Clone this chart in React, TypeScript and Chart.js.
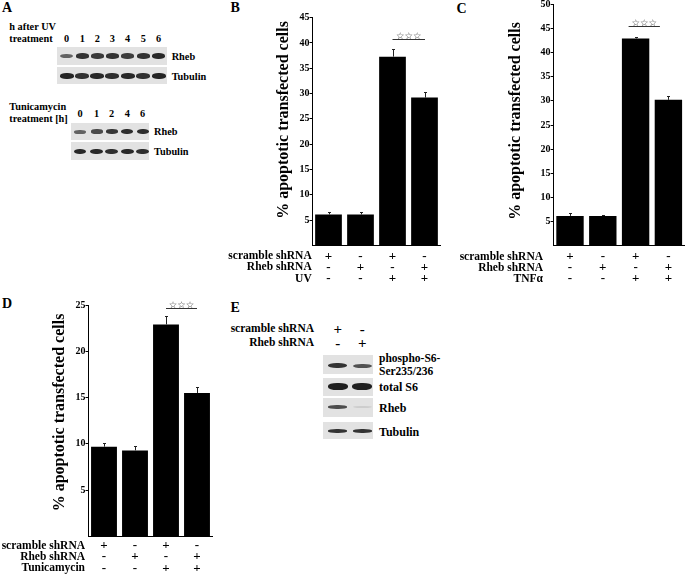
import React, { useEffect, useRef } from "react";
import { Chart, registerables } from "chart.js";

Chart.register(...registerables);

// ---------------- Data ----------------
const categories = ["scramble", "Rheb", "scramble + stress", "Rheb + stress"];
const scrambleSigns = ["+", "-", "+", "-"];
const rhebSigns = ["-", "+", "-", "+"];
const stressSigns = ["-", "-", "+", "+"];

const uvRowLabels = ["scramble shRNA", "Rheb shRNA", "UV"];
const tnfRowLabels = ["scramble shRNA", "Rheb shRNA", "TNFα"];
const tuniRowLabels = ["scramble shRNA", "Rheb shRNA", "Tunicamycin"];

const uvMeans = [6.1, 6.1, 37.3, 29.2];
const uvErrors = [0.5, 0.5, 1.6, 1.1];
const tnfMeans = [6.2, 6.2, 42.9, 30.2];
const tnfErrors = [0.5, 0.25, 0.4, 0.9];
const tuniMeans = [9.7, 9.3, 22.9, 15.5];
const tuniErrors = [0.4, 0.5, 0.9, 0.6];

const uvTicks = [5, 10, 15, 20, 25, 30, 35, 40, 45];
const tnfTicks = [5, 10, 15, 20, 25, 30, 35, 40, 45, 50];
const tuniTicks = [5, 10, 15, 20, 25];

const yTitle = "% apoptotic transfected cells";
const sigMark = "☆☆☆";

// Western blot panels
const uvHours = ["0", "1", "2", "3", "4", "5", "6"];
const uvRhebLevels = [0.62, 0.85, 0.82, 0.85, 0.8, 0.85, 0.9];
const uvTubulinLevels = [0.92, 0.86, 0.9, 0.88, 0.9, 0.86, 0.92];
const tuniHours = ["0", "1", "2", "4", "6"];
const tuniRhebLevels = [0.62, 0.74, 0.84, 0.88, 0.88];
const tuniTubulinLevels = [0.9, 0.9, 0.88, 0.9, 0.88];
const eScrambleSigns = ["+", "-"];
const eRhebSigns = ["-", "+"];
const ePhosphoLevels = [0.85, 0.7];
const eTotalS6Levels = [0.95, 0.95];
const eRhebLevels = [0.72, 0.1];
const eTubulinLevels = [0.85, 0.85];

const SERIF = '"Liberation Serif", "Times New Roman", serif';

// ---------------- Bar chart panel ----------------
type PanelProps = {
  left: number;
  top: number;
  width: number;
  height: number;
  means: number[];
  errors: number[];
  yMax: number;
  yTicks: number[];
  rowLabels: string[];
  padTop: number;
  padRight: number;
  padBottom: number;
  axisWidth: number;
  titleX: number;
  titleY: number;
  rowOffsets: number[];
  rowLabelX: number;
  sigValue: number;
  sigShift: number[];
};

function BarPanel(p: PanelProps) {
  const ref = useRef<HTMLCanvasElement | null>(null);
  useEffect(() => {
    const canvas = ref.current;
    if (!canvas) return;
    const rows = [scrambleSigns, rhebSigns, stressSigns];
    const overlay = {
      id: "overlay",
      afterDatasetsDraw(chart: any) {
        const ctx = chart.ctx as CanvasRenderingContext2D;
        const ca = chart.chartArea;
        const xs = chart.scales.x;
        const ys = chart.scales.y;
        const meta = chart.getDatasetMeta(0);
        ctx.save();
        // error bars
        ctx.strokeStyle = "#222";
        ctx.lineWidth = 1;
        p.means.forEach((m, i) => {
          const x = Math.round(meta.data[i].x) + 0.5;
          const y0 = ys.getPixelForValue(m);
          const y1 = Math.round(ys.getPixelForValue(m + p.errors[i])) + 0.5;
          ctx.beginPath();
          ctx.moveTo(x, y0);
          ctx.lineTo(x, y1);
          ctx.moveTo(x - 1.5, y1);
          ctx.lineTo(x + 1.5, y1);
          ctx.stroke();
        });
        // significance line + stars
        const sy = Math.round(ys.getPixelForValue(p.sigValue)) + 0.5;
        const sx1 = xs.getPixelForValue(2) + p.sigShift[0];
        const sx2 = xs.getPixelForValue(3) + p.sigShift[1];
        ctx.strokeStyle = "#333";
        ctx.beginPath();
        ctx.moveTo(sx1, sy);
        ctx.lineTo(sx2, sy);
        ctx.stroke();
        ctx.fillStyle = "#444";
        ctx.font = 'bold 9.5px "DejaVu Sans"';
        ctx.textAlign = "center";
        ctx.textBaseline = "alphabetic";
        ctx.fillText(sigMark, (sx1 + sx2) / 2, sy - 0.3);
        // y title
        ctx.save();
        ctx.translate(p.titleX, p.titleY);
        ctx.rotate(-Math.PI / 2);
        ctx.fillStyle = "#000";
        ctx.font = `bold 16px ${SERIF}`;
        ctx.textAlign = "center";
        ctx.textBaseline = "middle";
        ctx.fillText(yTitle, 0, 0);
        ctx.restore();
        // condition table
        ctx.fillStyle = "#000";
        ctx.textBaseline = "middle";
        rows.forEach((row, r) => {
          const y = ca.bottom + p.rowOffsets[r];
          ctx.font = `bold 11.5px ${SERIF}`;
          ctx.textAlign = "right";
          ctx.fillText(p.rowLabels[r], ca.left + p.rowLabelX, y);
          ctx.font = `bold 13px ${SERIF}`;
          ctx.textAlign = "center";
          row.forEach((s, i) => ctx.fillText(s, xs.getPixelForValue(i), y));
        });
        ctx.restore();
      },
    };
    const chart = new Chart(canvas, {
      type: "bar",
      data: {
        labels: categories,
        datasets: [
          {
            data: p.means,
            backgroundColor: "#000",
            borderWidth: 0,
            barPercentage: 0.835,
            categoryPercentage: 1,
          },
        ],
      },
      options: {
        animation: false,
        responsive: false,
        events: [],
        layout: {
          padding: { left: 0, right: p.padRight, top: p.padTop, bottom: p.padBottom },
        },
        plugins: { legend: { display: false }, tooltip: { enabled: false }, title: { display: false } },
        scales: {
          x: {
            afterFit: (s: any) => {
              s.height = 0;
            },
            ticks: { display: false },
            grid: { display: false },
            border: { display: true, color: "#000", width: 1 },
          },
          y: {
            min: 0,
            max: p.yMax,
            afterBuildTicks: (s: any) => {
              s.ticks = p.yTicks.map((v) => ({ value: v }));
            },
            afterFit: (s: any) => {
              s.width = p.axisWidth;
            },
            ticks: {
              color: "#000",
              padding: 0,
              font: { family: SERIF, size: 10, weight: "bold" },
            },
            grid: { drawOnChartArea: false, tickLength: 3, color: "#000", lineWidth: 1 },
            border: { display: true, color: "#000", width: 1 },
          },
        },
      },
      plugins: [overlay],
    } as any);
    return () => chart.destroy();
  }, []);
  return (
    <canvas
      ref={ref}
      width={p.width}
      height={p.height}
      style={{ position: "absolute", left: p.left, top: p.top, width: p.width, height: p.height }}
    />
  );
}

// ---------------- HTML helpers ----------------
function Txt(props: { x: number; y: number; size: number; align?: string; bold?: boolean; children: any }) {
  const align = props.align || "left";
  const tx = align === "left" ? "0" : align === "right" ? "-100%" : "-50%";
  return (
    <div
      style={{
        position: "absolute",
        left: props.x,
        top: props.y,
        transform: `translate(${tx}, -50%)`,
        fontSize: props.size,
        lineHeight: 1,
        fontWeight: props.bold === false ? 400 : 700,
        whiteSpace: "nowrap",
      }}
    >
      {props.children}
    </div>
  );
}

function Blot(props: {
  left: number;
  top: number;
  width: number;
  height: number;
  lanesX: number[];
  bandY: number;
  bandW: number;
  bandH: number;
  levels: number[];
}) {
  return (
    <div
      style={{
        position: "absolute",
        left: props.left,
        top: props.top,
        width: props.width,
        height: props.height,
        background: "#e2e2e2",
        overflow: "hidden",
      }}
    >
      {props.levels.map((lv, i) => {
        const h = props.bandH * (0.45 + 0.6 * lv);
        return (
          <div
            key={i}
            style={{
              position: "absolute",
              left: props.lanesX[i] - props.left - props.bandW / 2,
              top: props.bandY - props.top - h / 2,
              width: props.bandW,
              height: h,
              background: `rgba(20,20,20,${lv})`,
              borderRadius: "45%",
              filter: "blur(0.7px)",
            }}
          />
        );
      })}
    </div>
  );
}

const uvLaneX = [66.7, 82.3, 97.3, 112.3, 127.7, 143.3, 158.7];
const tuniLaneX = [80, 96.7, 111.7, 127.3, 142.7];
const eLaneX = [337.7, 362.3];

export default function App() {
  return (
    <div
      style={{
        position: "fixed",
        left: 0,
        top: 0,
        width: 685,
        height: 577,
        background: "#fff",
        overflow: "hidden",
        fontFamily: SERIF,
        color: "#000",
      }}
    >
      {/* Panel letters */}
      <Txt x={2} y={8} size={14}>A</Txt>
      <Txt x={230.5} y={8} size={14}>B</Txt>
      <Txt x={456.5} y={8.5} size={14}>C</Txt>
      <Txt x={2} y={304} size={14}>D</Txt>
      <Txt x={230.5} y={308} size={14}>E</Txt>

      {/* Panel A */}
      <Txt x={9.3} y={26.5} size={10.3}>h after UV</Txt>
      <Txt x={9.3} y={38.8} size={10.3}>treatment</Txt>
      {uvHours.map((h, i) => (
        <Txt key={"uvh" + i} x={uvLaneX[i]} y={39} size={10.3} align="center">{h}</Txt>
      ))}
      <Blot left={56.7} top={46.7} width={110} height={18.3} lanesX={uvLaneX} bandY={56} bandW={13.5} bandH={5.5} levels={uvRhebLevels} />
      <Blot left={56.7} top={66.7} width={110} height={17.6} lanesX={uvLaneX} bandY={76} bandW={14} bandH={5.5} levels={uvTubulinLevels} />
      <Txt x={171.7} y={56.5} size={10.3}>Rheb</Txt>
      <Txt x={171.7} y={76.5} size={10.3}>Tubulin</Txt>

      <Txt x={9.3} y={106.5} size={10.3}>Tunicamycin</Txt>
      <Txt x={9.3} y={119} size={10.3}>treatment [h]</Txt>
      {tuniHours.map((h, i) => (
        <Txt key={"th" + i} x={tuniLaneX[i]} y={114} size={10.3} align="center">{h}</Txt>
      ))}
      <Blot left={71} top={122.7} width={78.3} height={17.3} lanesX={tuniLaneX} bandY={131.7} bandW={12} bandH={5} levels={tuniRhebLevels} />
      <Blot left={71} top={141.7} width={78.3} height={18.3} lanesX={tuniLaneX} bandY={151.7} bandW={12.5} bandH={5.5} levels={tuniTubulinLevels} />
      <Txt x={154} y={132} size={10.3}>Rheb</Txt>
      <Txt x={154} y={152} size={10.3}>Tubulin</Txt>

      {/* Panel E */}
      <Txt x={314} y={329.3} size={11.5} align="right">scramble shRNA</Txt>
      <Txt x={314} y={342.7} size={11.5} align="right">Rheb shRNA</Txt>
      {eScrambleSigns.map((s, i) => (
        <Txt key={"es" + i} x={eLaneX[i]} y={329.3} size={15} align="center">{s}</Txt>
      ))}
      {eRhebSigns.map((s, i) => (
        <Txt key={"er" + i} x={eLaneX[i]} y={342.7} size={15} align="center">{s}</Txt>
      ))}
      <Blot left={322.7} top={355} width={50} height={19} lanesX={eLaneX} bandY={365.7} bandW={19} bandH={5} levels={ePhosphoLevels} />
      <Blot left={322.7} top={377.7} width={50} height={18.3} lanesX={eLaneX} bandY={386.7} bandW={20} bandH={6.5} levels={eTotalS6Levels} />
      <Blot left={322.7} top={398.3} width={50} height={19} lanesX={eLaneX} bandY={407} bandW={19} bandH={4} levels={eRhebLevels} />
      <Blot left={322.7} top={421.7} width={50} height={17.6} lanesX={eLaneX} bandY={431} bandW={19} bandH={3.5} levels={eTubulinLevels} />
      <Txt x={379} y={359} size={11.5}>phospho-S6-</Txt>
      <Txt x={379} y={371.5} size={11.5}>Ser235/236</Txt>
      <Txt x={379} y={387} size={12}>total S6</Txt>
      <Txt x={379} y={407.5} size={12}>Rheb</Txt>
      <Txt x={379} y={431.5} size={12}>Tubulin</Txt>

      {/* Panel B */}
      <BarPanel
        left={225}
        top={0}
        width={225}
        height={290}
        means={uvMeans}
        errors={uvErrors}
        yMax={45}
        yTicks={uvTicks}
        rowLabels={uvRowLabels}
        padTop={17.7}
        padRight={9.5}
        padBottom={44.7}
        axisWidth={87.5}
        titleX={58.5}
        titleY={120}
        rowOffsets={[11.2, 22.2, 33.5]}
        rowLabelX={-0.8}
        sigValue={40.7}
        sigShift={[0, 0.5]}
      />
      {/* Panel C */}
      <BarPanel
        left={455}
        top={-4}
        width={230}
        height={294}
        means={tnfMeans}
        errors={tnfErrors}
        yMax={50}
        yTicks={tnfTicks}
        rowLabels={tnfRowLabels}
        padTop={8.1}
        padRight={0.2}
        padBottom={44.1}
        axisWidth={98.6}
        titleX={60.5}
        titleY={125}
        rowOffsets={[11.2, 22.2, 33]}
        rowLabelX={-10.6}
        sigValue={45.5}
        sigShift={[-7, -8.5]}
      />
      {/* Panel D */}
      <BarPanel
        left={0}
        top={290}
        width={225}
        height={287}
        means={tuniMeans}
        errors={tuniErrors}
        yMax={25}
        yTicks={tuniTicks}
        rowLabels={tuniRowLabels}
        padTop={15}
        padRight={12.5}
        padBottom={40.5}
        axisWidth={88.5}
        titleX={60.2}
        titleY={122.5}
        rowOffsets={[9.5, 20.5, 32]}
        rowLabelX={-3.5}
        sigValue={24.7}
        sigShift={[0, 0]}
      />
    </div>
  );
}
